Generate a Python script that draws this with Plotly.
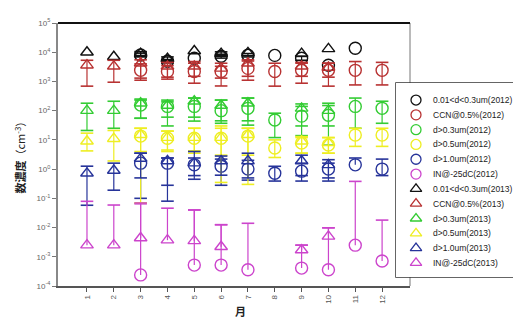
import plotly.graph_objects as go

months = list(range(1, 13))
month_labels = [str(m) for m in months]

y_tickvals = [1e-4, 1e-3, 1e-2, 1e-1, 1, 10, 100, 1e3, 1e4, 1e5]
y_ticktext = ["10<sup>-4</sup>", "10<sup>-3</sup>", "10<sup>-2</sup>", "10<sup>-1</sup>", "10<sup>0</sup>",
              "10<sup>1</sup>", "10<sup>2</sup>", "10<sup>3</sup>", "10<sup>4</sup>", "10<sup>5</sup>"]

# ---- 2012 (circles) ----
small12 = [None, None, 8000, 4900, 6200, 7300, 7900, 7800, 6200, 3600, 13700, None]
small12_hi = [None, None, 9300, 5600, None, 8500, 9000, None, 7200, None, None, None]
small12_lo = [None, None, 6900, 4300, None, 6300, 6900, None, 5300, None, None, None]

ccn12 = [None, None, 2400, 2200, 2200, 2200, 2800, 2200, 2400, 2400, 2400, 2400]
ccn12_hi = [None, None, 4000, 3500, 4200, 3300, 5000, 4200, 4200, 4200, 4800, 4500]
ccn12_lo = [None, None, 1300, 1200, 870, 700, 1100, 690, 870, 690, 760, 760]

d03_12 = [None, None, 155, 140, 140, 100, 120, 48, 65, 70, 140, 120]
d03_12_hi = [None, None, 230, 230, 270, 230, 270, 82, 140, 180, 270, 210]
d03_12_lo = [None, None, 55, 30, 44, 37, 32, 12, 14, 6.6, 25, 37]

d05_12 = [None, None, 13.5, 11.4, 11.4, 11.4, 13.5, 5.3, 7.8, 6.7, 14.6, 14.6]
d05_12_hi = [None, None, 25, 20, 25, 30, 25, 10, 12, 12, 25, 25]
d05_12_lo = [None, None, 4, 4.5, 4.2, 3, 3, 2.5, 3.5, 3.5, 6, 6]

d10_12 = [None, None, 1.6, 1.6, 1.4, 1.25, 1.0, 0.72, 0.85, 1.0, 1.4, 1.0]
d10_12_hi = [None, None, 3.5, 2.4, 2.4, 2.2, 2.0, 1.25, 1.6, 1.6, 2.4, 2.2]
d10_12_lo = [None, None, 0.1, 0.28, 0.6, 0.28, 0.42, 0.39, 0.39, 0.39, None, 0.6]

in12 = [None, None, 0.00024, None, 0.00052, 0.00052, 0.00036, None, 0.00041, 0.00036, 0.0025, 0.00072]
in12_hi = [None, None, 0.065, None, 0.04, 0.0125, 0.014, None, 0.0025, 0.0098, 0.38, 0.018]
in12_lo = [None] * 12

# ---- 2013 (triangles) ----
small13 = [10000, 7000, 9000, 6000, 11000, 9000, 9500, None, 9000, 13000, None, None]
small13_hi = [None, None, 10500, 6900, None, 10300, None, None, None, None, None, None]
small13_lo = [None, None, 7700, 5200, None, 7800, None, None, None, None, None, None]

ccn13 = [3600, 3300, 4200, 3300, 3300, 2800, 4200, None, 3300, 3000, None, None]
ccn13_hi = [5300, 5300, 5500, 4500, 4800, 4200, 5500, None, 4500, 4200, None, None]
ccn13_lo = [690, 940, 1100, 1400, 1500, 1300, 1500, None, 1500, 1400, None, None]

d03_13 = [100, 100, 180, 150, 210, 150, 180, None, 120, 100, None, None]
d03_13_hi = [180, 210, 250, 200, 270, 230, 270, None, 170, 150, None, None]
d03_13_lo = [21, 25, 55, 60, 60, 45, 45, None, 30, 30, None, None]

d05_13 = [9, 11, 15, 12, 12, 12, 15, None, 9, 8, None, None]
d05_13_hi = [17, 21, 25, 20, 25, 25, 25, None, 13, 12, None, None]
d05_13_lo = [4.2, 1.9, 0.07, 4, 3.5, 0.35, 0.3, None, 3.5, 3.5, None, None]

d10_13 = [0.72, 0.9, 2.3, 1.9, 1.6, 1.9, 1.9, None, 1.9, 1.4, None, None]
d10_13_hi = [1.26, 1.6, 3.5, 2.4, 4.0, 2.8, 3.5, None, 3.0, 2.1, None, None]
d10_13_lo = [0.058, 0.19, 0.5, 0.08, 0.45, 0.62, 0.5, None, 0.6, 0.5, None, None]

in13 = [0.0025, 0.0025, 0.0044, 0.0037, 0.0035, 0.0022, None, None, 0.0017, 0.005, None, None]
in13_hi = [0.079, 0.059, 0.069, 0.046, 0.04, 0.0125, None, None, 0.0025, 0.0098, None, None]
in13_lo = [None] * 12

legend_names = ["0.01&lt;d&lt;0.3um(2012)", "CCN@0.5%(2012)", "d&gt;0.3um(2012)", "d&gt;0.5um(2012)",
                "d&gt;1.0um(2012)", "IN@-25dC(2012)",
                "0.01&lt;d&lt;0.3um(2013)", "CCN@0.5%(2013)", "d&gt;0.3um(2013)", "d&gt;0.5um(2013)",
                "d&gt;1.0um(2013)", "IN@-25dC(2013)"]

colors = ["#111111", "#b83232", "#33cc33", "#eeee22", "#27349a", "#cc44cc"]

series = [
    (small12, small12_hi, small12_lo, 0, "circle-open"),
    (ccn12, ccn12_hi, ccn12_lo, 1, "circle-open"),
    (d03_12, d03_12_hi, d03_12_lo, 2, "circle-open"),
    (d05_12, d05_12_hi, d05_12_lo, 3, "circle-open"),
    (d10_12, d10_12_hi, d10_12_lo, 4, "circle-open"),
    (in12, in12_hi, in12_lo, 5, "circle-open"),
    (small13, small13_hi, small13_lo, 0, "triangle-up-open"),
    (ccn13, ccn13_hi, ccn13_lo, 1, "triangle-up-open"),
    (d03_13, d03_13_hi, d03_13_lo, 2, "triangle-up-open"),
    (d05_13, d05_13_hi, d05_13_lo, 3, "triangle-up-open"),
    (d10_13, d10_13_hi, d10_13_lo, 4, "triangle-up-open"),
    (in13, in13_hi, in13_lo, 5, "triangle-up-open"),
]

fig = go.Figure()

W, H = 521, 320
ml, mr, mt, mb = 50, 5, 15, 42
pw = W - ml - mr
ph = H - mt - mb
main_right = 402
dm = (main_right - ml) / pw

for vals, hi, lo, ci, sym in series:
    col = colors[ci]
    plus = [(h - v) if (v is not None and h is not None) else 0 for v, h in zip(vals, hi)]
    minus = [(v - l) if (v is not None and l is not None) else 0 for v, l in zip(vals, lo)]
    fig.add_trace(go.Scatter(
        x=months, y=vals, mode="markers",
        marker=dict(symbol=sym, size=12 if sym.startswith("circle") else 11,
                    color=col, line=dict(width=1.4, color=col)),
        error_y=dict(type="data", symmetric=False, array=plus, arrayminus=minus,
                     color=col, thickness=1.2, width=0),
        showlegend=False, hoverinfo="skip"))
    caps_x = [m for m, v, h in zip(months, vals, hi) if v is not None and h is not None] + \
             [m for m, v, l in zip(months, vals, lo) if v is not None and l is not None]
    caps_y = [h for v, h in zip(vals, hi) if v is not None and h is not None] + \
             [l for v, l in zip(vals, lo) if v is not None and l is not None]
    fig.add_trace(go.Scatter(
        x=caps_x, y=caps_y, mode="markers",
        marker=dict(symbol="line-ew-open", size=9, color=col, line=dict(width=1.6, color=col)),
        showlegend=False, hoverinfo="skip"))

# custom legend
leg_idx = list(range(12))
leg_symbols = [s[4] for s in series]
leg_colors = [colors[s[3]] for s in series]
fig.add_trace(go.Scatter(
    x=[0] * 12, y=[-i for i in leg_idx], xaxis="x2", yaxis="y2", mode="markers",
    marker=dict(symbol=leg_symbols, size=10, color=leg_colors, line=dict(width=1.3, color=leg_colors)),
    showlegend=False, hoverinfo="skip"))

annotations = []
for i, name in zip(leg_idx, legend_names):
    annotations.append(dict(x=0.94, y=-i, xref="x2", yref="y2", text=name, showarrow=False,
                            xanchor="left", yanchor="middle",
                            font=dict(family="Liberation Sans, Arial", size=8.5, color="#222")))

annotations.append(dict(x=(12 - ml) / pw, y=0.5, xref="paper", yref="paper",
                        text="<b>数濃度</b>（cm<sup>-3</sup>）", textangle=-90, showarrow=False,
                        xanchor="center", yanchor="middle",
                        font=dict(family="Noto Sans CJK JP", size=11, color="#222")))
annotations.append(dict(x=(232 - ml) / pw, y=(H - mb - 303) / ph, xref="paper", yref="paper",
                        text="<b>月</b>", showarrow=False, xanchor="center", yanchor="middle",
                        font=dict(family="Noto Sans CJK JP", size=11, color="#222")))

leg_x0 = (388 - ml) / pw
leg_y0 = (H - mb - 269) / ph
leg_y1 = (H - mb - 75) / ph

shapes = [
    dict(type="line", xref="paper", yref="paper", x0=dm, x1=dm, y0=0, y1=1,
         line=dict(color="#777", width=1), layer="below"),
    dict(type="line", xref="paper", yref="paper", x0=0, x1=dm, y0=1, y1=1,
         line=dict(color="#111", width=2), layer="below"),
    dict(type="rect", xref="x2 domain", yref="y2 domain", x0=0, x1=1, y0=0, y1=1,
         line=dict(color="#333", width=1.5), fillcolor="white", layer="below"),
]

fig.update_layout(
    width=W, height=H,
    margin=dict(l=ml, r=mr, t=mt, b=mb),
    paper_bgcolor="white", plot_bgcolor="white",
    font=dict(family="Liberation Sans, Arial", size=8, color="#444"),
    xaxis=dict(domain=[0, dm], range=[-0.08, 13.04], tickvals=months, ticktext=month_labels,
               tickangle=-90, ticks="outside", ticklen=4, tickcolor="#555",
               showline=True, linecolor="#555", linewidth=1.5, showgrid=False, zeroline=False,
               tickfont=dict(size=8, color="#555")),
    yaxis=dict(type="log", range=[-4, 5], tickvals=y_tickvals, ticktext=y_ticktext,
               ticks="outside", ticklen=4, tickcolor="#777",
               showline=True, linecolor="#888", linewidth=2, showgrid=False, zeroline=False,
               tickfont=dict(size=8, color="#666")),
    xaxis2=dict(domain=[leg_x0, 1], range=[-1.25, 6.75], visible=False, anchor="y2", fixedrange=True),
    yaxis2=dict(domain=[leg_y0, leg_y1], range=[-11.95, 1.15], visible=False, anchor="x2", fixedrange=True),
    annotations=annotations,
    shapes=shapes,
)

fig.write_html("out.html")
